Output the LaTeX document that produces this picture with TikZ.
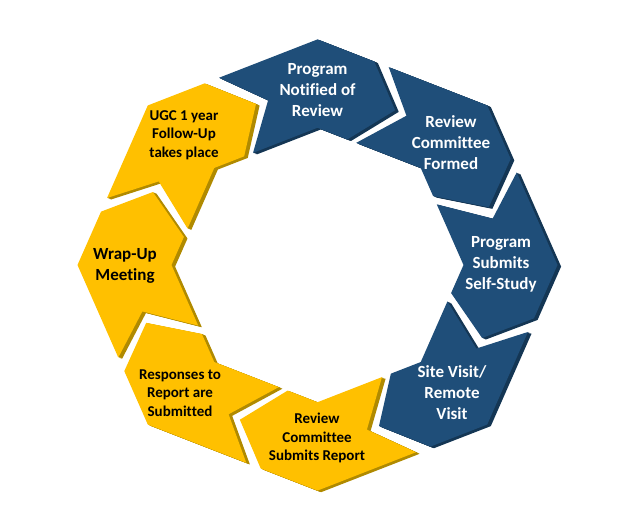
\documentclass[tikz,border=0pt]{standalone}
\usepackage{fontspec}
\setmainfont{Carlito}[Ligatures={NoCommon}]
\definecolor{cblue}{HTML}{1F4E79}
\definecolor{cblueD}{HTML}{143654}
\definecolor{cyel}{HTML}{FFC000}
\definecolor{cyelD}{HTML}{B08A00}
\begin{document}
\begin{tikzpicture}[x=1pt,y=1pt,
  bluetxt/.style={text=white,inner sep=0pt,align=center,font=\bfseries\fontsize{17}{21}\selectfont},
  yeltxt/.style={text=black,inner sep=0pt,align=center,font=\bfseries\fontsize{15}{18.5}\selectfont},
  bigyeltxt/.style={text=black,inner sep=0pt,align=center,font=\bfseries\fontsize{17}{21}\selectfont}]
\useasboundingbox (0,0) rectangle (643,510);
\def\Ro{240}\def\Ri{146}\def\rm{182}
\def\ao{5.8}\def\ai{7.9}\def\bb{4.75}\def\gg{2.0}
\pgfmathsetmacro\Rom{\Ro*cos(22.5)}
\pgfmathsetmacro\Rim{\Ri*cos(22.5)}
% segment corner coordinates
\begin{scope}[shift={(317.5,245)},yscale=0.94]
\foreach \k in {0,...,7}{
  \pgfmathsetmacro\th{90-45*\k}
  \pgfmathsetmacro\ft{\th+22.5}
  \pgfmathsetmacro\fh{\th-22.5}
  \coordinate (s\k-1) at ({\ft+\ao-\gg}:{\Rom/cos(\ao-\gg)});
  \coordinate (s\k-2) at (\th:\Ro);
  \coordinate (s\k-3) at ({\fh+\ao+\gg}:{\Rom/cos(\ao+\gg)});
  \coordinate (s\k-4) at ({\fh-\bb+\gg}:\rm);
  \coordinate (s\k-5) at ({\fh+\ai+\gg}:{\Rim/cos(\ai+\gg)});
  \coordinate (s\k-6) at (\th:\Ri);
  \coordinate (s\k-7) at ({\ft+\ai-\gg}:{\Rim/cos(\ai-\gg)});
  \coordinate (s\k-8) at ({\ft-\bb-\gg}:\rm);
}
\end{scope}
% extrusions
\foreach \k/\dc in {0/cblueD,1/cblueD,2/cblueD,3/cblueD,4/cyelD,5/cyelD,6/cyelD,7/cyelD}{
  \foreach \s in {1,2,3,4}{
    \fill[\dc] ([shift={(0.9*\s,-0.4*\s)}]s\k-1) -- ([shift={(0.9*\s,-0.4*\s)}]s\k-2)
      -- ([shift={(0.9*\s,-0.4*\s)}]s\k-3) -- ([shift={(0.9*\s,-0.4*\s)}]s\k-4)
      -- ([shift={(0.9*\s,-0.4*\s)}]s\k-5) -- ([shift={(0.9*\s,-0.4*\s)}]s\k-6)
      -- ([shift={(0.9*\s,-0.4*\s)}]s\k-7) -- ([shift={(0.9*\s,-0.4*\s)}]s\k-8) -- cycle;
  }
}
% faces
\foreach \k/\fc in {0/cblue,1/cblue,2/cblue,3/cblue,4/cyel,5/cyel,6/cyel,7/cyel}{
  \fill[\fc] (s\k-1) -- (s\k-2) -- (s\k-3) -- (s\k-4) -- (s\k-5) -- (s\k-6) -- (s\k-7) -- (s\k-8) -- cycle;
}
% texts
\node[bluetxt] (t0) at (317.5,420) {Program\\Notified of\\Review};
\node[bluetxt] (t1) at (451,367) {Review\\Committee\\Formed};
\node[bluetxt] (t2) at (501,246) {Program\\Submits\\Self-Study};
\node[bluetxt] (t3) at (452,117) {Site Visit/\\Remote\\Visit};
\node[yeltxt] (t4) at (317,72) {Review\\Committee\\Submits Report};
\node[yeltxt] (t5) at (180,117) {Responses to\\Report are\\Submitted};
\node[bigyeltxt] (t6) at (125,244) {Wrap-Up\\Meeting};
\node[yeltxt] (t7) at (184,375) {UGC 1 year\\Follow-Up\\takes place};
\end{tikzpicture}
\end{document}
